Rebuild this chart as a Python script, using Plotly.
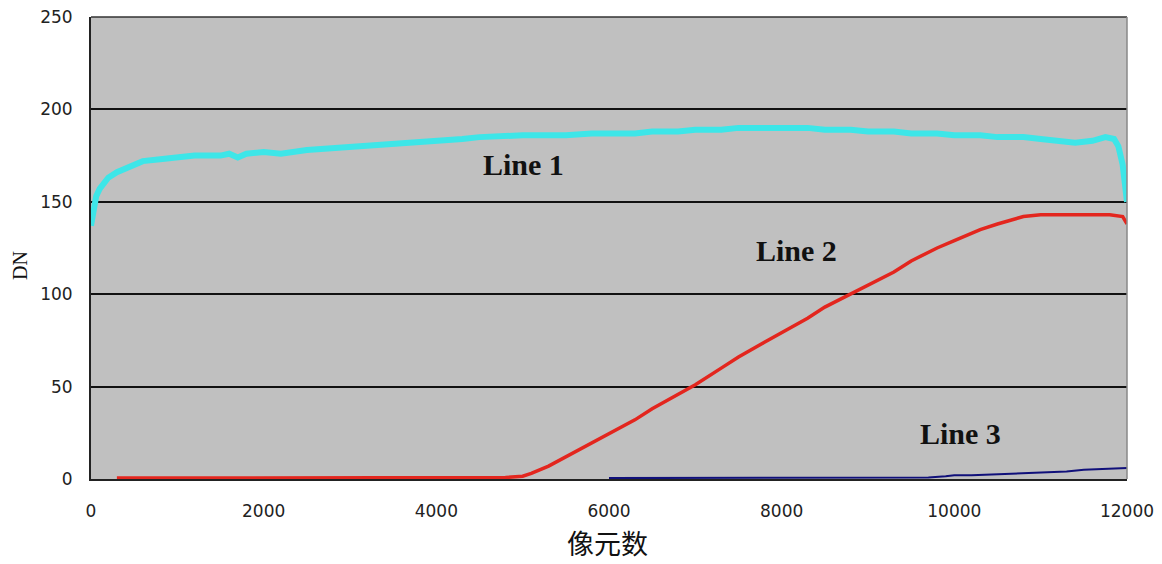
import plotly.graph_objects as go

# Line 1 (cyan)
x1 = [0, 30, 60, 100, 150, 200, 300, 400, 500, 600, 800, 1000, 1200, 1500, 1600, 1700, 1800, 2000,
      2200, 2500, 2800, 3000, 3300, 3500, 3800, 4000, 4300, 4500, 4800, 5000, 5300, 5500, 5800, 6000,
      6300, 6500, 6800, 7000, 7300, 7500, 7800, 8000, 8300, 8500, 8800, 9000, 9300, 9500, 9800, 10000,
      10300, 10500, 10800, 11000, 11200, 11400, 11600, 11750, 11850, 11900, 11950, 11980, 12000]
y1 = [137, 147, 153, 157, 160, 163, 166, 168, 170, 172, 173, 174, 175, 175, 176, 174, 176, 177,
      176, 178, 179, 179, 180, 181, 182, 183, 184, 185, 186, 186, 186, 186, 187, 187,
      187, 188, 188, 189, 189, 190, 190, 190, 190, 189, 189, 188, 188, 187, 187, 186,
      186, 185, 185, 184, 183, 182, 183, 185, 184, 180, 170, 160, 150]

# Line 2 (red)
x2 = [300, 1000, 2000, 3000, 4000, 4800, 5000, 5100, 5300, 5500, 5800, 6000, 6300, 6500, 6800,
      7000, 7300, 7500, 7800, 8000, 8300, 8500, 8800, 9000, 9300, 9500, 9800, 10000, 10300, 10500,
      10800, 11000, 11300, 11600, 11800, 11950, 12000]
y2 = [0.5, 0.5, 0.5, 0.5, 0.5, 0.8, 1.5, 3, 7, 12, 19, 24, 32, 38, 46, 51, 60, 66, 74, 79,
      87, 93, 100, 105, 112, 118, 125, 129, 135, 138, 142, 143, 143, 143, 143, 142, 138]

# Line 3 (navy)
x3 = [6000, 7000, 8000, 9000, 9700, 9900, 10000, 10200, 10500, 10800, 11000, 11300, 11500, 11700, 11900, 12000]
y3 = [0.5, 0.5, 0.5, 0.5, 0.8, 1.5, 2, 2, 2.5, 2.8, 3.2, 4, 5, 5.5, 6, 6]

xticks = [0, 2000, 4000, 6000, 8000, 10000, 12000]
yticks = [0, 50, 100, 150, 200, 250]

labels = ["Line 1", "Line 2", "Line 3"]
label_x = [5015, 8166, 10066]
label_y = [170, 123.5, 24.5]

fig = go.Figure()
fig.add_trace(go.Scatter(x=x1, y=y1, mode="lines", line=dict(color="#3DE6E8", width=6), showlegend=False))
fig.add_trace(go.Scatter(x=x2, y=y2, mode="lines", line=dict(color="#E3261E", width=3.5), showlegend=False))
fig.add_trace(go.Scatter(x=x3, y=y3, mode="lines", line=dict(color="#10107A", width=2), showlegend=False))

for t, lx, ly in zip(labels, label_x, label_y):
    fig.add_annotation(x=lx, y=ly, text="<b>%s</b>" % t, showarrow=False,
                       font=dict(family="Liberation Serif", size=30, color="#111111"))

# axis titles as annotations for precise placement
fig.add_annotation(xref="paper", yref="paper", x=(20 - 91) / 1036, y=(479 - 266) / 462,
                   text="DN", textangle=-90, showarrow=False, xanchor="center", yanchor="middle",
                   font=dict(family="Liberation Serif", size=20, color="#111111"))
fig.add_annotation(xref="paper", yref="paper", x=(607 - 91) / 1036, y=(479 - 563) / 462,
                   text="像元数", showarrow=False, xanchor="center", yanchor="bottom",
                   borderpad=0,
                   font=dict(family="Noto Sans CJK SC", size=27, color="#111111"))

tickfont = dict(family="DejaVu Sans", size=17, color="#222222")
fig.update_layout(
    width=1162, height=564,
    margin=dict(l=91, r=35, t=17, b=85),
    paper_bgcolor="white",
    plot_bgcolor="#C0C0C0",
    xaxis=dict(range=[0, 12000], tickvals=xticks, ticktext=[str(v) for v in xticks],
               showgrid=False, zeroline=False, showline=True, linecolor="#222222", linewidth=2,
               mirror=False, ticks="", ticklabelstandoff=16, tickfont=tickfont, automargin=False),
    yaxis=dict(range=[0, 250], tickvals=yticks, ticktext=[str(v) for v in yticks],
               showgrid=True, gridcolor="#111111", gridwidth=1.5, zeroline=False,
               showline=True, linecolor="#222222", linewidth=2, ticks="", ticklabelstandoff=13,
               tickfont=tickfont, automargin=False),
)
# top and right frame
fig.add_shape(type="line", xref="paper", yref="paper", x0=0, x1=1, y0=1, y1=1,
              line=dict(color="#333333", width=1.5))
fig.add_shape(type="line", xref="paper", yref="paper", x0=1, x1=1, y0=0, y1=1,
              line=dict(color="#888888", width=1.5))

fig.write_html("out.html")
